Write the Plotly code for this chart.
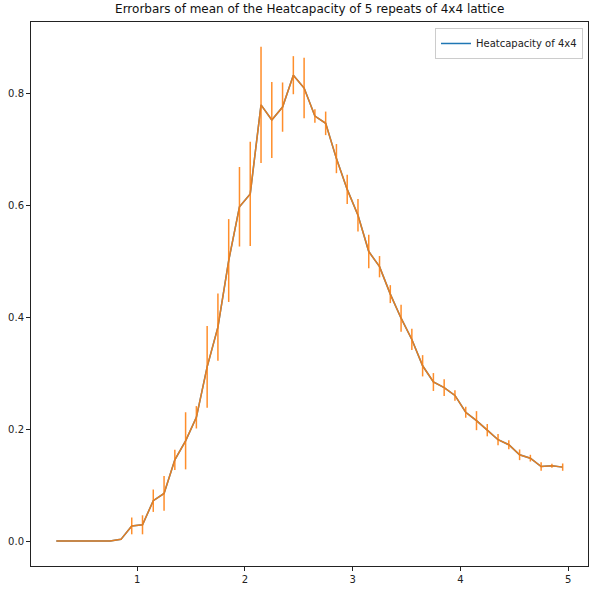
import plotly.graph_objects as go

temps = [0.25, 0.35, 0.45, 0.55, 0.65, 0.75, 0.85, 0.95, 1.05, 1.15, 1.25, 1.35,
         1.45, 1.55, 1.65, 1.75, 1.85, 1.95, 2.05, 2.15, 2.25, 2.35, 2.45, 2.55,
         2.65, 2.75, 2.85, 2.95, 3.05, 3.15, 3.25, 3.35, 3.45, 3.55, 3.65, 3.75,
         3.85, 3.95, 4.05, 4.15, 4.25, 4.35, 4.45, 4.55, 4.65, 4.75, 4.85, 4.95]

heat_mean = [0.0, 0.0, 0.0, 0.0, 0.0, 0.0, 0.003, 0.027, 0.029, 0.072, 0.085, 0.145,
             0.179, 0.221, 0.311, 0.382, 0.501, 0.597, 0.620, 0.779, 0.752, 0.775, 0.832, 0.809,
             0.759, 0.746, 0.683, 0.628, 0.582, 0.517, 0.490, 0.441, 0.398, 0.360, 0.313, 0.284,
             0.274, 0.260, 0.230, 0.215, 0.198, 0.181, 0.172, 0.154, 0.148, 0.133, 0.1345, 0.132]

heat_err = [0.0, 0.0, 0.0, 0.0, 0.0, 0.0, 0.001, 0.015, 0.017, 0.020, 0.031, 0.018,
            0.051, 0.020, 0.073, 0.060, 0.074, 0.071, 0.093, 0.104, 0.068, 0.044, 0.034, 0.054,
            0.012, 0.021, 0.026, 0.026, 0.029, 0.030, 0.019, 0.016, 0.024, 0.019, 0.019, 0.016,
            0.015, 0.0095, 0.0098, 0.017, 0.011, 0.010, 0.008, 0.0095, 0.006, 0.0077, 0.0036, 0.0065]

x_ticks = [1, 2, 3, 4, 5]
y_ticks = [0.0, 0.2, 0.4, 0.6, 0.8]
y_tick_labels = ["0.0", "0.2", "0.4", "0.6", "0.8"]

title_text = "Errorbars of mean of the Heatcapacity of 5 repeats of 4x4 lattice"
legend_label = "Heatcapacity of 4x4"

fig = go.Figure()
fig.add_trace(go.Scatter(
    x=temps, y=heat_mean, mode="lines", name=legend_label,
    line=dict(color="#1f77b4", width=1.5),
))
fig.add_trace(go.Scatter(
    x=temps, y=heat_mean, mode="lines", showlegend=False,
    line=dict(color="#ff7f0e", width=1.5),
    opacity=0.88,
    error_y=dict(type="data", array=heat_err, visible=True,
                 color="#ff7f0e", thickness=1.5, width=0),
))

axis_common = dict(
    showline=True, linecolor="#222222", linewidth=1, mirror=True,
    ticks="outside", ticklen=4, tickwidth=1, tickcolor="#222222",
    showgrid=False, zeroline=False, automargin=False,
    tickfont=dict(family="DejaVu Sans", size=10, color="#222222"),
)

fig.update_layout(
    width=598, height=590,
    margin=dict(l=31, r=10, t=22, b=24),
    paper_bgcolor="white", plot_bgcolor="white",
    title=dict(text=title_text, x=0.5179, xanchor="center", y=0.9915, yanchor="top",
               font=dict(family="DejaVu Sans", size=12, color="#111111"),
               automargin=False),
    xaxis=dict(range=[0.015, 5.185], tickvals=x_ticks, **axis_common),
    yaxis=dict(range=[-0.0446, 0.927], tickvals=y_ticks, ticktext=y_tick_labels, **axis_common),
    legend=dict(x=0.991, xanchor="right", y=0.989, yanchor="top",
                bgcolor="rgba(255,255,255,0.8)", bordercolor="#cccccc", borderwidth=1,
                font=dict(family="DejaVu Sans", size=10, color="#222222"),
                itemwidth=30, tracegroupgap=0),
    showlegend=True,
)

fig.write_html("out.html", config={"displayModeBar": False},
               post_script="document.body.style.margin='0px';")
